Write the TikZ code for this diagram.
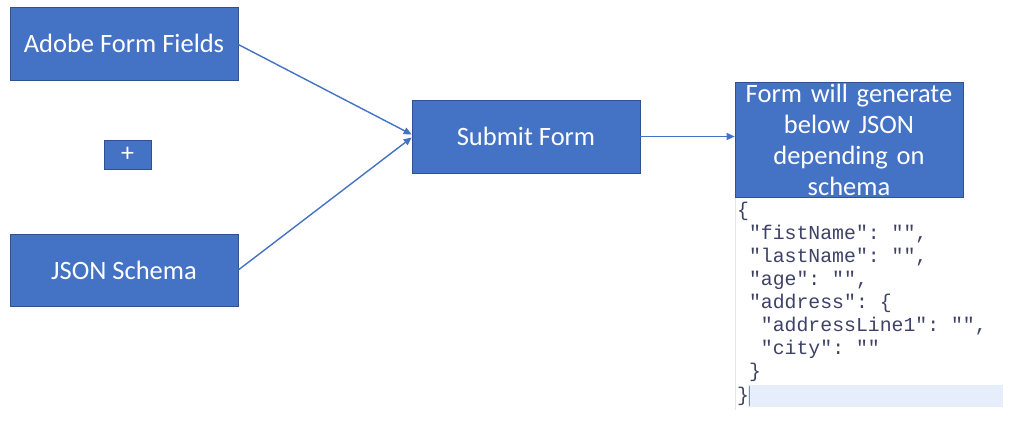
\documentclass[tikz,border=0pt]{standalone}
\usepackage{fontspec}
\setmainfont{Carlito}
\setmonofont{Liberation Mono}
\usetikzlibrary{arrows.meta}
\definecolor{boxblue}{HTML}{4472C4}
\definecolor{boxedge}{HTML}{2F528F}
\definecolor{codecol}{HTML}{3E4266}
\definecolor{hilite}{HTML}{E6EDFB}
\definecolor{cursorcol}{HTML}{8090C8}
\definecolor{faintline}{HTML}{E4E4E4}
\begin{document}
\begin{tikzpicture}[x=1pt,y=-1pt,
  bluebox/.style={fill=boxblue, draw=boxedge, line width=0.6pt, text=white,
    inner sep=0pt, font=\fontsize{26.5}{31}\selectfont, align=center},
  conn/.style={draw=boxblue, line width=1.4pt, -{Triangle[length=8pt,width=7pt]}},
  codeline/.style={anchor=base west, inner sep=0pt, text=codecol,
    font=\ttfamily\fontsize{19.8}{23}\selectfont}]
\useasboundingbox[fill=white] (0,0) rectangle (1026,423);
% boxes
\node[bluebox, minimum width=228pt, minimum height=73pt] (adobe) at (124,43.5) {Adobe Form Fields};
\node[bluebox, minimum width=47pt, minimum height=29pt, font=\fontsize{26}{28}\selectfont] (plus) at (127.5,154.5) {+};
\node[bluebox, minimum width=228pt, minimum height=72pt] (schema) at (124,270) {JSON Schema};
\node[bluebox, minimum width=228pt, minimum height=73pt] (submit) at (526,136.5) {Submit Form};
\node[bluebox, minimum width=228pt, minimum height=115pt, text width=228pt] (form) at (849,139.5)
  {Form will generate\\below JSON\\depending on\\schema};
% connectors
\draw[conn] ([yshift=-1pt]adobe.east) -- ([yshift=2pt]submit.west);
\draw[conn] (schema.east) -- ([yshift=-1pt]submit.west);
\draw[conn] (submit.east) -- (form.west |- submit.east);
% code area decorations
\draw[faintline, line width=0.8pt] (735,198) -- (735,410);
\fill[hilite] (748,385) rectangle (1003,407);
\draw[cursorcol, line width=0.8pt] (749,386) -- (749,406);
% JSON text
\node[codeline] (l1) at (737,216) {\{};
\node[codeline] (l2) at (737,239) {\ "fistName": "",};
\node[codeline] (l3) at (737,262) {\ "lastName": "",};
\node[codeline] (l4) at (737,285) {\ "age": "",};
\node[codeline] (l5) at (737,308) {\ "address": \{};
\node[codeline] (l6) at (737,331) {\ \ "addressLine1": "",};
\node[codeline] (l7) at (737,354) {\ \ "city": ""};
\node[codeline] (l8) at (737,377) {\ \}};
\node[codeline] (l9) at (737,401) {\}};
\end{tikzpicture}
\end{document}
